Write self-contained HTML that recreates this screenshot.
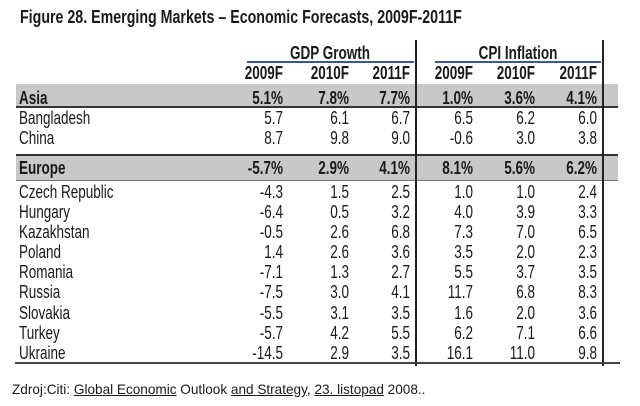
<!DOCTYPE html>
<html><head><meta charset="utf-8"><style>
body{margin:0;background:#fff;}
#t{position:relative;width:640px;height:406px;overflow:hidden;font-family:"Liberation Sans",sans-serif;color:#1a1a1a;}
.a{position:absolute;white-space:nowrap;}
.n{position:absolute;text-align:right;width:80px;font-size:18px;line-height:22px;transform:scaleX(0.75);transform-origin:right center;white-space:nowrap;}
.l{position:absolute;left:19px;font-size:18px;line-height:22px;transform:scaleX(0.75);transform-origin:left center;white-space:nowrap;}
.b{font-weight:bold;}
</style></head><body>
<div id="t">
<div class="a b" style="left:20px;top:6px;font-size:18px;line-height:22px;transform:scaleX(0.79);transform-origin:left center;">Figure 28. Emerging Markets – Economic Forecasts, 2009F-2011F</div>
<div class="a" style="left:16px;top:84px;width:602px;height:22px;background:#c8c8c8;border-bottom:2px solid #333;"></div>
<div class="a" style="left:16px;top:154px;width:602px;height:24px;background:#c8c8c8;border-top:2px solid #333;border-bottom:1px solid #777;"></div>
<div class="a" style="left:247px;top:61px;width:167px;height:2px;background:#3a5a8c;"></div>
<div class="a" style="left:435px;top:61px;width:166px;height:2px;background:#3a5a8c;"></div>
<div class="a" style="left:415px;top:40px;width:2px;height:326px;background:#222;"></div>
<div class="a" style="left:602px;top:40px;width:2px;height:326px;background:#222;"></div>
<div class="a" style="left:15px;top:362px;width:605px;height:2px;background:#444;"></div>
<div class="a b" style="left:330px;top:42px;font-size:18px;line-height:22px;transform:translateX(-50%) scaleX(0.75);">GDP Growth</div>
<div class="a b" style="left:518px;top:42px;font-size:18px;line-height:22px;transform:translateX(-50%) scaleX(0.75);">CPI Inflation</div>
<div class="a" style="left:12px;top:381px;font-size:14px;transform:scaleX(0.97);transform-origin:left center;">Zdroj:Citi: <u>Global Economic</u> Outlook <u>and Strategy</u>, <u>23. listopad</u> 2008..</div>
</div>
<script>
const years=["2009F","2010F","2011F","2009F","2010F","2011F"];
const names=["Asia","Bangladesh","China","Europe","Czech Republic","Hungary","Kazakhstan","Poland","Romania","Russia","Slovakia","Turkey","Ukraine"];
const vals=[["5.1%","7.8%","7.7%","1.0%","3.6%","4.1%"],["5.7","6.1","6.7","6.5","6.2","6.0"],["8.7","9.8","9.0","-0.6","3.0","3.8"],["-5.7%","2.9%","4.1%","8.1%","5.6%","6.2%"],["-4.3","1.5","2.5","1.0","1.0","2.4"],["-6.4","0.5","3.2","4.0","3.9","3.3"],["-0.5","2.6","6.8","7.3","7.0","6.5"],["1.4","2.6","3.6","3.5","2.0","2.3"],["-7.1","1.3","2.7","5.5","3.7","3.5"],["-7.5","3.0","4.1","11.7","6.8","8.3"],["-5.5","3.1","3.5","1.6","2.0","3.6"],["-5.7","4.2","5.5","6.2","7.1","6.6"],["-14.5","2.9","3.5","16.1","11.0","9.8"]];
const rowY=[87,107,127,157,181,201,221,241,261,281,302,322,342];
const colR=[283,349,410,473,535,597];
const T=document.getElementById('t');
function mk(cls,txt,x,y,bold){const d=document.createElement('div');d.className=cls+(bold?' b':'');d.textContent=txt;d.style.top=y+'px';if(x!==null)d.style.left=x+'px';T.appendChild(d);return d;}
years.forEach((y,i)=>{const d=mk('n',y,colR[i]-80,62,true);

});
names.forEach((n,r)=>{const bold=(r===0||r===3);
const d=mk('l',n,null,rowY[r],bold);


vals[r].forEach((v,c)=>{const e=mk('n',v,colR[c]-80,rowY[r],bold);

});});
</script>
</body></html>
